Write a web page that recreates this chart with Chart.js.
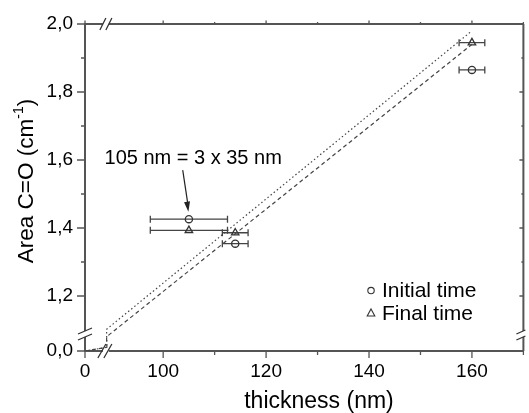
<!DOCTYPE html>
<html>
<head>
<meta charset="utf-8">
<script src="https://cdn.jsdelivr.net/npm/chart.js@4.4.0/dist/chart.umd.min.js"></script>
<style>
html,body{margin:0;padding:0;background:#fff;}
#wrap{width:529px;height:413px;position:relative;}
</style>
</head>
<body>
<div id="wrap"><canvas id="c" width="529" height="413"></canvas></div>
<script>
// ---- data ----
const thicknessInitial = [105, 114, 160];
const areaInitial      = [1.426, 1.354, 1.865];
const xErrInitial      = [7.5, 2.5, 2.5];

const thicknessFinal   = [105, 114, 160];
const areaFinal        = [1.393, 1.386, 1.945];
const xErrFinal        = [7.5, 2.5, 2.5];

const fitX        = [0, 5, 89, 160];
const fitDotted   = [0, 0.062, 1.102, 1.980];
const fitDashed   = [0, 0.061, 1.080, 1.940];

const xMajorTicks = [100, 120, 140, 160];
const xMinorTicks = [110, 130, 150, 170];
const yMajorTicks = [1.2, 1.4, 1.6, 1.8, 2.0];
const yMinorTicks = [1.3, 1.5, 1.7, 1.9];

const legendLabels = ['Initial time', 'Final time'];
const annotationText = '105 nm = 3 x 35 nm';

// ---- broken-axis mapping (lower segment compressed) ----
const X0 = 84.81, XBREAK = 50, XLOW = 0.85;
const Y0 = 1.0382, YBREAK = 0.5, YLOW = 0.1767;
const vx = x => x >= XBREAK ? x : X0 + x * XLOW;
const vy = y => y >= YBREAK ? y : Y0 + y * YLOW;
const pts = (xs, ys) => xs.map((x, i) => ({x: vx(x), y: vy(ys[i])}));

const FONT = '"Liberation Sans", Arial, sans-serif';
const AXC = '#555';

const overlay = {
  id: 'overlay',
  beforeDatasetsDraw(chart) {
    const {ctx} = chart, xs = chart.scales.x, ys = chart.scales.y;
    ctx.save();
    ctx.strokeStyle = '#444';
    ctx.lineWidth = 1.3;
    const bars = (xv, yv, ev) => xv.forEach((x, i) => {
      const l = xs.getPixelForValue(vx(x - ev[i])), r = xs.getPixelForValue(vx(x + ev[i]));
      const y = ys.getPixelForValue(vy(yv[i]));
      ctx.beginPath();
      ctx.moveTo(l, y); ctx.lineTo(r, y);
      ctx.moveTo(l, y - 3.5); ctx.lineTo(l, y + 3.5);
      ctx.moveTo(r, y - 3.5); ctx.lineTo(r, y + 3.5);
      ctx.stroke();
    });
    bars(thicknessInitial, areaInitial, xErrInitial);
    bars(thicknessFinal, areaFinal, xErrFinal);
    ctx.restore();
  },
  afterDraw(chart) {
    const {ctx, chartArea: a} = chart, xs = chart.scales.x, ys = chart.scales.y;
    ctx.save();
    ctx.strokeStyle = AXC;
    ctx.lineWidth = 2;
    // top & right frame
    ctx.beginPath();
    ctx.moveTo(a.left, a.top); ctx.lineTo(a.right, a.top);
    ctx.moveTo(a.right, a.top); ctx.lineTo(a.right, a.bottom);
    ctx.stroke();
    // ticks
    ctx.lineWidth = 1.3;
    ctx.beginPath();
    const xt = (v, len) => { const p = xs.getPixelForValue(v); ctx.moveTo(p, a.bottom); ctx.lineTo(p, a.bottom + len); ctx.moveTo(p, a.top); ctx.lineTo(p, a.top - len/2); };
    const yt = (v, len) => { const p = ys.getPixelForValue(v); ctx.moveTo(a.left, p); ctx.lineTo(a.left - len, p); ctx.moveTo(a.right, p); ctx.lineTo(a.right - len/2, p); };
    xt(vx(0), 7);
    xMajorTicks.forEach(v => xt(vx(v), 7));
    xMinorTicks.forEach(v => xt(vx(v), 4));
    yt(vy(0), 8);
    yMajorTicks.forEach(v => yt(vy(v), 8));
    yMinorTicks.forEach(v => yt(vy(v), 4));
    ctx.stroke();
    // breaks
    const gapX = (x1, x2, y) => { ctx.fillStyle = '#fff'; ctx.fillRect(x1, y - 2, x2 - x1, 4); };
    const gapY = (y1, y2, x) => { ctx.fillStyle = '#fff'; ctx.fillRect(x - 2, y1, 4, y2 - y1); };
    const bx = xs.getPixelForValue(vx(5)) - 2;
    const tbx = bx + 1;
    gapX(bx - 2, bx + 4, a.bottom);
    gapX(tbx - 3, tbx + 3, a.top);
    const by = ys.getPixelForValue(vy(0.3)) + 1;
    gapY(by - 3, by + 3, a.left);
    gapY(by - 3, by + 3, a.right);
    ctx.strokeStyle = '#333';
    ctx.lineWidth = 1.3;
    ctx.beginPath();
    [-3, 3].forEach(d => {
      // bottom axis
      ctx.moveTo(bx + d - 4, a.bottom + 7); ctx.lineTo(bx + d + 4, a.bottom - 7);
      // top axis
      ctx.moveTo(tbx + d - 3, a.top + 6); ctx.lineTo(tbx + d + 3, a.top - 6);
      // left axis
      ctx.moveTo(a.left - 7, by + d + 3); ctx.lineTo(a.left + 7, by + d - 3);
      // right axis
      ctx.moveTo(a.right - 7, by + d + 3); ctx.lineTo(a.right + 2, by + d - 1);
    });
    ctx.stroke();

    // legend
    ctx.fillStyle = '#000';
    ctx.font = '21px ' + FONT;
    ctx.textBaseline = 'middle';
    ctx.textAlign = 'left';
    const lx = xs.getPixelForValue(140) + 2, ly1 = ys.getPixelForValue(1.216), ly2 = ys.getPixelForValue(1.150);
    ctx.strokeStyle = '#333'; ctx.lineWidth = 1.1;
    ctx.beginPath(); ctx.arc(lx, ly1, 3.2, 0, Math.PI * 2); ctx.stroke();
    ctx.beginPath(); ctx.moveTo(lx, ly2 - 4); ctx.lineTo(lx + 3.8, ly2 + 3); ctx.lineTo(lx - 3.8, ly2 + 3); ctx.closePath(); ctx.stroke();
    ctx.fillText(legendLabels[0], lx + 11, ly1 + 1);
    ctx.fillText(legendLabels[1], lx + 11, ly2 + 1);

    // annotation
    ctx.font = '20px ' + FONT;
    ctx.fillText(annotationText, xs.getPixelForValue(88.6), ys.getPixelForValue(1.604));
    const tx = xs.getPixelForValue(103.8), ty = ys.getPixelForValue(1.570);
    const hx = xs.getPixelForValue(104.9), hy = ys.getPixelForValue(1.448);
    ctx.strokeStyle = '#222'; ctx.lineWidth = 1.2;
    ctx.beginPath(); ctx.moveTo(tx, ty); ctx.lineTo(hx, hy - 4); ctx.stroke();
    const ang = Math.atan2(hy - ty, hx - tx);
    ctx.fillStyle = '#222';
    ctx.beginPath();
    ctx.moveTo(hx, hy);
    ctx.lineTo(hx - 10 * Math.cos(ang) + 3 * Math.sin(ang), hy - 10 * Math.sin(ang) - 3 * Math.cos(ang));
    ctx.lineTo(hx - 10 * Math.cos(ang) - 3 * Math.sin(ang), hy - 10 * Math.sin(ang) + 3 * Math.cos(ang));
    ctx.closePath(); ctx.fill();

    // axis titles
    ctx.fillStyle = '#000';
    ctx.font = '23px ' + FONT;
    ctx.textAlign = 'center';
    ctx.textBaseline = 'alphabetic';
    ctx.fillText('thickness (nm)', 319, 408);
    ctx.save();
    ctx.translate(33, 181);
    ctx.rotate(-Math.PI / 2);
    const p1 = 'Area C=O (cm', sup = '-1', p2 = ')';
    ctx.font = '22.5px ' + FONT;
    const w1 = ctx.measureText(p1).width, w3 = ctx.measureText(p2).width;
    ctx.font = '14px ' + FONT;
    const w2 = ctx.measureText(sup).width;
    let s = -(w1 + w2 + w3) / 2;
    ctx.textAlign = 'left';
    ctx.font = '22.5px ' + FONT;
    ctx.fillText(p1, s, 0);
    ctx.font = '14px ' + FONT;
    ctx.fillText(sup, s + w1, -10);
    ctx.font = '22.5px ' + FONT;
    ctx.fillText(p2, s + w1 + w2, 0);
    ctx.restore();
    ctx.restore();
  }
};

new Chart(document.getElementById('c'), {
  type: 'scatter',
  data: {
    datasets: [
      {label: 'fit final', data: pts(fitX, fitDotted), showLine: true, borderColor: '#444', borderWidth: 1.2, borderDash: [1.5, 2.5], pointRadius: 0, fill: false},
      {label: 'fit initial', data: pts(fitX, fitDashed), showLine: true, borderColor: '#444', borderWidth: 1.2, borderDash: [4, 3], pointRadius: 0, fill: false},
      {label: legendLabels[0], data: pts(thicknessInitial, areaInitial), pointStyle: 'circle', pointRadius: 3.6, borderColor: '#333', backgroundColor: 'rgba(255,255,255,0)', borderWidth: 1.3},
      {label: legendLabels[1], data: pts(thicknessFinal, areaFinal), pointStyle: 'triangle', pointRadius: 4.3, borderColor: '#333', backgroundColor: 'rgba(255,255,255,0)', borderWidth: 1.3}
    ]
  },
  options: {
    responsive: false,
    animation: false,
    layout: {padding: {top: 24, right: 1, left: 0, bottom: 0}},
    plugins: {legend: {display: false}, tooltip: {enabled: false}},
    scales: {
      x: {
        type: 'linear', min: X0, max: 170,
        afterBuildTicks: s => { s.ticks = [vx(0), ...xMajorTicks].map(v => ({value: v})); },
        afterFit: s => { s.height = 62; },
        grid: {display: false, drawTicks: false},
        border: {display: true, color: AXC, width: 2},
        ticks: {color: '#000', font: {size: 19, family: FONT}, padding: 9,
          callback: v => Math.abs(v - vx(0)) < 1e-6 ? '0' : String(v)}
      },
      y: {
        type: 'linear', min: Y0, max: 2.0,
        afterBuildTicks: s => { s.ticks = [vy(0), ...yMajorTicks].map(v => ({value: v})); },
        afterFit: s => { s.width = 85; },
        grid: {display: false, drawTicks: false},
        border: {display: true, color: AXC, width: 2},
        ticks: {color: '#000', font: {size: 19, family: FONT}, padding: 12,
          callback: v => Math.abs(v - vy(0)) < 1e-6 ? '0,0' : v.toFixed(1).replace('.', ',')}
      }
    }
  },
  plugins: [overlay]
});
</script>
</body>
</html>
